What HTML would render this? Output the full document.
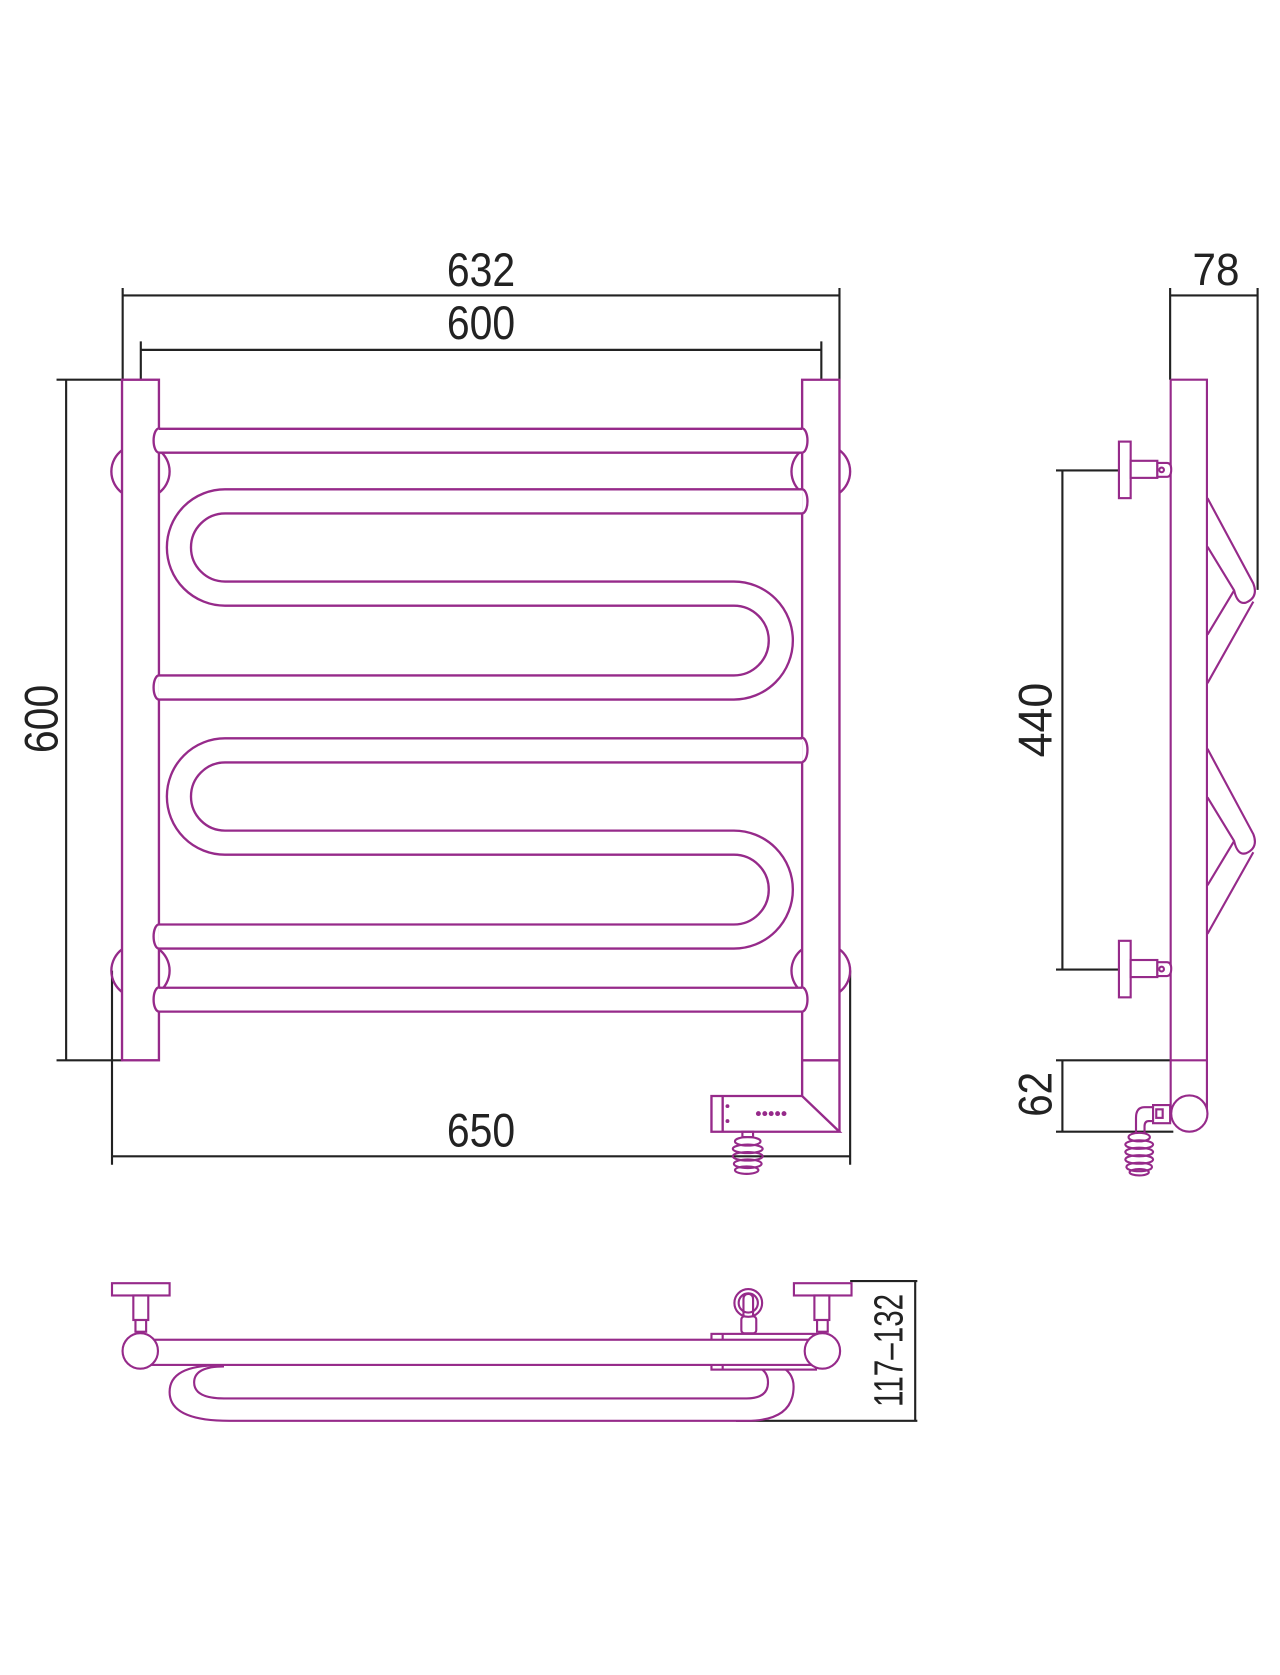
<!DOCTYPE html>
<html><head><meta charset="utf-8"><style>
html,body{margin:0;padding:0;background:#fff;}
svg{display:block;}
text{font-family:"Liberation Sans",sans-serif;fill:#222;}
</style></head><body>
<svg width="1280" height="1675" viewBox="0 0 1200 1570.3" xmlns="http://www.w3.org/2000/svg">
<defs>
<g id="tubeS">
  <path d="M752,470 H211 A43,43 0 0 0 211,556.5 H688 A43,43 0 0 1 688,644.5 H149" fill="none" stroke="#962a8a" stroke-width="24.8"/>
  <path d="M752,470 H211 A43,43 0 0 0 211,556.5 H688 A43,43 0 0 1 688,644.5 H149" fill="none" stroke="#fff" stroke-width="20.4"/>
</g>
</defs>
<rect width="1200" height="1570.3" fill="#fff"/>

<!-- dimension lines (dark) -->
<g stroke="#222" stroke-width="2" fill="none">
  <path d="M115,277 H787 M115,270 V356 M787,270 V356"/>
  <path d="M132,328 H770 M132,320 V356 M770,320 V356"/>
  <path d="M62,356 V994 M53,356 H115 M53,994 H115"/>
  <path d="M105,1084 H797 M105,910 V1092 M797,910 V1092"/>
  <path d="M1097,277 H1179 M1097,270 V356 M1179,270 V553"/>
  <path d="M996,441 V909 M990,441 H1050 M990,909 H1050"/>
  <path d="M996,994 V1061 M990,994 H1097 M990,1061 H1100"/>
  <path d="M858,1201 V1332 M797,1201 H860 M690,1332 H860"/>
</g>

<!-- labels -->
<text x="451" y="268" font-size="44" text-anchor="middle" textLength="64" lengthAdjust="spacingAndGlyphs">632</text>
<text x="451" y="318" font-size="44" text-anchor="middle" textLength="64" lengthAdjust="spacingAndGlyphs">600</text>
<text x="451" y="1075" font-size="44" text-anchor="middle" textLength="64" lengthAdjust="spacingAndGlyphs">650</text>
<text x="1140" y="267" font-size="43" text-anchor="middle" textLength="44" lengthAdjust="spacingAndGlyphs">78</text>
<text transform="translate(54,674) rotate(-90)" font-size="44" text-anchor="middle" textLength="64" lengthAdjust="spacingAndGlyphs">600</text>
<text transform="translate(986,675) rotate(-90)" font-size="44" text-anchor="middle" textLength="70" lengthAdjust="spacingAndGlyphs">440</text>
<text transform="translate(986,1026) rotate(-90)" font-size="44" text-anchor="middle" textLength="42" lengthAdjust="spacingAndGlyphs">62</text>
<text transform="translate(846,1266) rotate(-90)" font-size="38" text-anchor="middle" textLength="106" lengthAdjust="spacingAndGlyphs">117–132</text>

<g stroke="#962a8a" stroke-width="2.2" fill="#fff">
<!-- FRONT VIEW -->
<!-- wall bulges -->
<path d="M114.4,422 A25,25 0 0 0 114.4,462 M149,422 A25,25 0 0 1 149,462" fill="none"/>
<path d="M752,422 A25,25 0 0 0 752,462 M787,422 A25,25 0 0 1 787,462" fill="none"/>
<path d="M114.4,890 A25,25 0 0 0 114.4,930 M149,890 A25,25 0 0 1 149,930" fill="none"/>
<path d="M752,890 A25,25 0 0 0 752,930 M787,890 A25,25 0 0 1 787,930" fill="none"/>
<!-- rails -->
<rect x="114.4" y="356" width="34.6" height="638"/>
<path d="M752,1027.5 V356 H787 V1061"/>
<path d="M752,994 H787" fill="none"/>
<path d="M667,1027.5 H752 L787,1061 H667 Z"/>
<path d="M677.5,1027.5 V1061" fill="none"/>
<!-- end caps -->
<ellipse cx="149" cy="413" rx="5" ry="11.3"/><ellipse cx="752" cy="413" rx="5" ry="11.3"/>
<ellipse cx="752" cy="470" rx="5" ry="11.3"/><ellipse cx="149" cy="644.5" rx="5" ry="11.3"/>
<ellipse cx="752" cy="703" rx="5" ry="11.3"/><ellipse cx="149" cy="878" rx="5" ry="11.3"/>
<ellipse cx="149" cy="937" rx="5" ry="11.3"/><ellipse cx="752" cy="937" rx="5" ry="11.3"/>
<!-- straight bars -->
<rect x="149" y="402" width="603" height="22.4" stroke="none"/>
<path d="M149,402 H752 M149,424.4 H752" fill="none"/>
<rect x="149" y="926" width="603" height="22.4" stroke="none"/>
<path d="M149,926 H752 M149,948.4 H752" fill="none"/>
</g>
<use href="#tubeS"/>
<use href="#tubeS" transform="translate(0,233.5)"/>
<!-- heater detail -->
<g fill="#962a8a">
<circle cx="682" cy="1037" r="1.8"/><circle cx="682" cy="1051" r="1.8"/>
<circle cx="711" cy="1044" r="2.3"/><circle cx="717" cy="1044" r="2.3"/><circle cx="723" cy="1044" r="2.3"/><circle cx="729" cy="1044" r="2.3"/><circle cx="735" cy="1044" r="2.3"/>
</g>
<g stroke="#962a8a" stroke-width="2" fill="none">
<rect x="696" y="1061" width="10" height="5"/>
<ellipse cx="701" cy="1070" rx="12" ry="4"/><ellipse cx="701" cy="1077" rx="14" ry="4"/>
<ellipse cx="701" cy="1084" rx="14" ry="4"/><ellipse cx="701" cy="1091" rx="13" ry="4"/><ellipse cx="700" cy="1097" rx="11" ry="3.5"/>

<!-- SIDE VIEW -->
<path d="M1097.5,356 H1131.5 V1044 M1097.5,356 V1044 M1097.5,994 H1131.5"/>
<circle cx="1115" cy="1044" r="17" fill="#fff"/>
<rect x="1081" y="1036" width="16" height="17" fill="#fff"/>
<rect x="1084" y="1040" width="6" height="8"/>
<path d="M1081,1038 H1073 Q1065,1038 1065,1048 V1062 M1081,1051 H1077 Q1073,1051 1073,1056 V1062"/>
<ellipse cx="1068" cy="1066" rx="10" ry="4"/><ellipse cx="1068" cy="1073" rx="13" ry="4"/>
<ellipse cx="1068" cy="1080" rx="13" ry="4"/><ellipse cx="1068" cy="1087" rx="13" ry="4"/><ellipse cx="1068" cy="1094" rx="12" ry="4"/><ellipse cx="1068" cy="1099" rx="9" ry="3"/>
<!-- brackets -->
<g id="br">
<rect x="1049" y="414" width="11" height="53" fill="#fff"/>
<rect x="1060" y="432" width="25" height="16" fill="#fff"/>
<path d="M1085,434 H1094 Q1098,434 1098,440 Q1098,447 1094,447 H1085 Z" fill="#fff"/>
<circle cx="1089" cy="440.5" r="2.2"/>
</g>
<use href="#br" transform="translate(0,468)"/>
<!-- arms -->
<g id="arm">
<path d="M1132,467 L1175,547 Q1180,560 1168,565 Q1160,567 1157,553.5 L1132,512.5"/>
<path d="M1157,553.5 L1132,595 M1175,564 L1132,640.5"/>
</g>
<use href="#arm" transform="translate(0,235)"/>

<!-- TOP VIEW -->
<rect x="105" y="1203" width="54" height="11.5" fill="#fff"/>
<rect x="125" y="1214.5" width="14" height="23" fill="#fff"/>
<rect x="127" y="1237.5" width="10" height="11" fill="#fff"/>
<rect x="744.3" y="1203" width="54" height="11.5" fill="#fff"/>
<rect x="763.5" y="1214.5" width="14" height="23" fill="#fff"/>
<rect x="766" y="1237.5" width="10" height="11" fill="#fff"/>
<!-- loop -->
<path d="M205,1280 Q159,1280 159,1305 Q159,1332 215,1332 H700 Q744,1332 744,1300 Q744,1286 730,1280" fill="#fff"/>
<path d="M210,1281 Q182,1281 182,1296 Q182,1311 210,1311 H700 Q720,1311 720,1296 Q720,1284 708,1281" fill="#fff"/>
<!-- heater block -->
<rect x="667" y="1250.5" width="98" height="33.5" fill="#fff"/>
<path d="M677.5,1250.5 V1256 M677.5,1279.6 V1284"/>
<!-- bar -->
<rect x="132" y="1256" width="639" height="23.6" fill="#fff"/>
<circle cx="131.5" cy="1266.5" r="16.6" fill="#fff"/>
<circle cx="771" cy="1266.5" r="16.6" fill="#fff"/>
<!-- knob -->
<rect x="695" y="1234" width="14" height="16" rx="3" fill="#fff"/>
<circle cx="701.5" cy="1221.5" r="13" fill="#fff"/>
<circle cx="701.5" cy="1221.5" r="9"/>
<path d="M697,1234 V1218 Q697,1213 701.5,1213 Q706,1213 706,1218 V1234"/>
</g>
</svg>
</body></html>
